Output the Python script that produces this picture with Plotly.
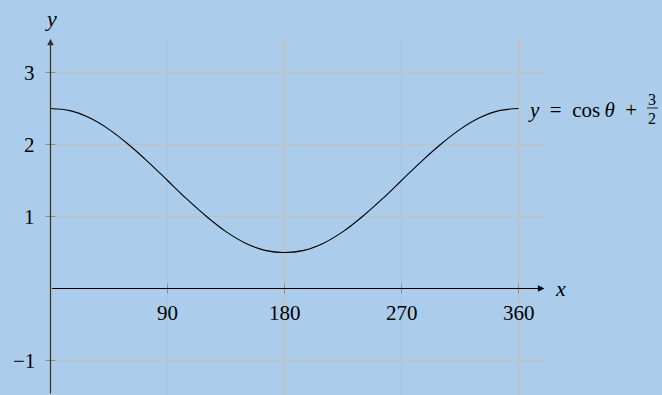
import plotly.graph_objects as go

# curve y = cos(theta) + 3/2, values every 15 degrees
theta = [0, 15, 30, 45, 60, 75, 90, 105, 120, 135, 150, 165, 180,
         195, 210, 225, 240, 255, 270, 285, 300, 315, 330, 345, 360]
y_vals = [2.5, 2.47, 2.37, 2.21, 2.0, 1.76, 1.5, 1.24, 1.0, 0.79, 0.63, 0.53, 0.5,
          0.53, 0.63, 0.79, 1.0, 1.24, 1.5, 1.76, 2.0, 2.21, 2.37, 2.47, 2.5]

x_ticks = [90, 180, 270, 360]
y_ticks = [-1, 1, 2, 3]
x_tick_labels = ["90", "180", "270", "360"]
y_tick_labels = ["\u22121", "1", "2", "3"]

bg = "rgb(171,205,235)"
grid_col = "rgb(192,192,188)"
tick_col = "rgb(140,140,140)"
font_family = "Liberation Serif"

# pixel scale: 1.3 px per degree, 72 px per unit, origin at (50.5, 288.5)
ox, oy = 50.5, 288.5
sx, sy = 1.3, 72.0
xr = [-ox / sx, (662 - ox) / sx]
yr = [(oy - 395) / sy, oy / sy]
px_x = 1 / sx
px_y = 1 / sy


def dx(p):
    return (p - ox) / sx


def dy(p):
    return (oy - p) / sy


fig = go.Figure()

fig.add_trace(go.Scatter(x=theta, y=y_vals, mode="lines",
                         line=dict(color="black", width=1.1, shape="spline"),
                         showlegend=False, hoverinfo="skip"))

shapes = []
# grid
for xv in x_ticks:
    shapes.append(dict(type="line", xref="x", yref="y", x0=xv, x1=xv, y0=yr[0], y1=3.47,
                       line=dict(color=grid_col, width=1), layer="below"))
    shapes.append(dict(type="line", xref="x", yref="y", x0=xv, x1=xv, y0=-5 * px_y, y1=5 * px_y,
                       line=dict(color=tick_col, width=1), layer="below"))
for yv in y_ticks:
    shapes.append(dict(type="line", xref="x", yref="y", x0=-4, x1=381, y0=yv, y1=yv,
                       line=dict(color=grid_col, width=1), layer="below"))
    shapes.append(dict(type="line", xref="x", yref="y", x0=-5 * px_x, x1=5 * px_x, y0=yv, y1=yv,
                       line=dict(color=tick_col, width=1), layer="below"))
# fraction bar of 3/2
shapes.append(dict(type="line", xref="x", yref="y", x0=dx(647), x1=dx(658),
                   y0=dy(108), y1=dy(108), line=dict(color="black", width=0.8)))

annotations = []
# axes with arrows
annotations.append(dict(x=380, y=0, ax=0, ay=0, xref="x", yref="y", axref="x", ayref="y",
                        text="", showarrow=True, arrowhead=2, arrowsize=1.1, arrowwidth=1.2,
                        arrowcolor="black"))
annotations.append(dict(x=0, y=3.47, ax=0, ay=yr[0], xref="x", yref="y", axref="x", ayref="y",
                        text="", showarrow=True, arrowhead=2, arrowsize=1.1, arrowwidth=1.2,
                        arrowcolor="rgb(50,50,50)"))
# tick labels
for xv, lab in zip(x_ticks, x_tick_labels):
    annotations.append(dict(x=xv, y=-24 * px_y, xref="x", yref="y", text=lab, showarrow=False,
                            xanchor="center", yanchor="middle",
                            font=dict(family=font_family, size=21, color="black")))
for yv, lab in zip(y_ticks, y_tick_labels):
    annotations.append(dict(x=-14 * px_x, y=yv, xref="x", yref="y", text=lab, showarrow=False,
                            xanchor="right", yanchor="middle",
                            font=dict(family=font_family, size=21, color="black")))
# axis labels
annotations.append(dict(x=dx(560), y=0, xref="x", yref="y", text="<i>x</i>",
                        showarrow=False, xanchor="center", yanchor="middle",
                        font=dict(family=font_family, size=22, color="black")))
annotations.append(dict(x=0, y=dy(18), xref="x", yref="y", text="<i>y</i>",
                        showarrow=False, xanchor="center", yanchor="middle",
                        font=dict(family=font_family, size=22, color="black")))
# curve label
annotations.append(dict(x=dx(526), y=dy(110), xref="x", yref="y",
                        text="<i>y</i>\u2002=\u2002cos\u2009<i>\u03b8</i>\u2002+", showarrow=False,
                        xanchor="left", yanchor="middle",
                        font=dict(family=font_family, size=21, color="black")))
annotations.append(dict(x=dx(652), y=dy(99), xref="x", yref="y", text="3",
                        showarrow=False, xanchor="center", yanchor="middle",
                        font=dict(family=font_family, size=16, color="black")))
annotations.append(dict(x=dx(652), y=dy(118), xref="x", yref="y", text="2",
                        showarrow=False, xanchor="center", yanchor="middle",
                        font=dict(family=font_family, size=16, color="black")))

fig.update_layout(
    width=662, height=395,
    margin=dict(l=0, r=0, t=0, b=0),
    paper_bgcolor=bg, plot_bgcolor=bg,
    xaxis=dict(range=xr, visible=False, fixedrange=True),
    yaxis=dict(range=yr, visible=False, fixedrange=True),
    shapes=shapes,
    annotations=annotations,
    showlegend=False,
)

fig.write_html("out.html", config={"displayModeBar": False},
               post_script="document.body.style.margin='0';")
